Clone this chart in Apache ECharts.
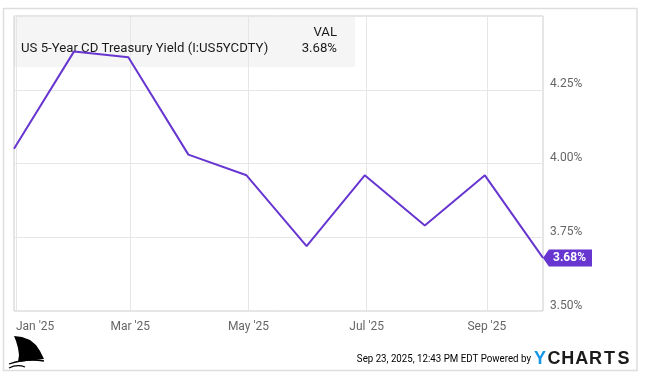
<!DOCTYPE html>
<html>
<head>
<meta charset="utf-8">
<script src="https://cdn.jsdelivr.net/npm/echarts@6/dist/echarts.min.js"></script>
<style>
html,body{margin:0;padding:0;background:#fff;}
#chart{width:645px;height:377px;}
</style>
</head>
<body>
<div id="chart"></div>
<script>
// ---- data ----
var dates = ['2024-12-31','2025-01-31','2025-02-28','2025-03-31','2025-04-30','2025-05-31','2025-06-30','2025-07-31','2025-08-31','2025-09-30'];
var yields = [4.05, 4.38, 4.36, 4.03, 3.96, 3.72, 3.96, 3.79, 3.96, 3.68];
var xTickDates = ['2025-01-01','2025-03-01','2025-05-01','2025-07-01','2025-09-01'];
var seriesName = 'US 5-Year CD Treasury Yield (I:US5YCDTY)';
var lastLabel = '3.68%';
var footerText = 'Sep 23, 2025, 12:43 PM EDT Powered by';

function ts(s){ var p = s.split('-'); return new Date(+p[0], +p[1]-1, +p[2]).getTime(); }
var months = ['Jan','Feb','Mar','Apr','May','Jun','Jul','Aug','Sep','Oct','Nov','Dec'];
var seriesData = dates.map(function(d,i){ return [ts(d), yields[i]]; });
var tickVals = xTickDates.map(ts);
var lastPoint = seriesData[seriesData.length-1];

var purple = '#6735d0';
var chart = echarts.init(document.getElementById('chart'));
var logoLetters = ['Y','C','H','A','R','T','S'];
var logoGraphics = logoLetters.map(function(ch, i){
  return {type:'text', x: 540 + i*13.9, y: 359, z: 10,
    style:{text: ch, font:'bold 18px "Liberation Sans", Arial, sans-serif', fill: i===0 ? '#1597e5' : '#1a1a1a', align:'center', verticalAlign:'middle'}};
});

chart.setOption({
  animation:false,
  textStyle:{fontFamily:'Roboto, sans-serif'},
  grid:{left:14, right:102, top:16, bottom:66, show:true, borderColor:'#cccccc', borderWidth:1, containLabel:false},
  xAxis:{
    type:'value', min:seriesData[0][0], max:lastPoint[0], scale:true,
    axisLine:{show:false}, axisTick:{show:false, customValues: tickVals},
    splitLine:{show:true, customValues: tickVals, lineStyle:{color:'#e6e6e6', width:1}},
    axisLabel:{customValues: tickVals, margin:10, color:'#666', fontSize:12, fontFamily:'Roboto',
      alignMinLabel:'left', hideOverlap:false,
      formatter:function(v){ var d=new Date(v); return months[d.getMonth()]+" '"+String(d.getFullYear()).slice(2); }}
  },
  yAxis:{
    type:'value', position:'right', min:3.5, max:4.5, interval:0.25,
    axisLine:{show:false}, axisTick:{show:false},
    splitLine:{show:true, lineStyle:{color:'#e6e6e6', width:1}},
    axisLabel:{margin:7, color:'#666', fontSize:12, fontFamily:'Roboto', verticalAlign:'middle', lineHeight:11, showMaxLabel:false,
      formatter:function(v){ return v.toFixed(2)+'%\n '; }}
  },
  series:[{
    type:'line', name:seriesName, data:seriesData, showSymbol:false, symbol:'none',
    lineStyle:{color:purple, width:2}, z:5,
    markPoint:{
      symbol:'path://M0,8 L6,0 L50,0 L50,16 L6,16 Z', symbolSize:[49,17], symbolOffset:[24.5,0], symbolKeepAspect:false,
      itemStyle:{color:purple},
      label:{show:true, position:'inside', offset:[2,0], color:'#fff', fontWeight:'bold', fontSize:12, fontFamily:'Roboto', formatter: lastLabel},
      data:[{coord: lastPoint, value: lastPoint[1]}]
    }
  }],
  graphic:[
    {type:'rect', z:-1, shape:{x:3.5, y:8.5, width:633.5, height:362}, style:{fill:'none', stroke:'#dddddd', lineWidth:1.5}},
    {type:'rect', z:-1, shape:{x:14, y:16, width:341, height:51}, style:{fill:'#f5f5f5'}},
    {type:'text', x:337, y:33, z:10, style:{text:'VAL', font:'13.2px Roboto', fill:'#1a1a1a', align:'right', verticalAlign:'middle'}},
    {type:'text', x:21, y:49, z:1, style:{text:seriesName, font:'13.2px Roboto', fill:'#1a1a1a', align:'left', verticalAlign:'middle'}},
    {type:'text', x:337, y:49, z:10, style:{text:lastLabel, font:'13.2px Roboto', fill:'#1a1a1a', align:'right', verticalAlign:'middle'}},
    {type:'text', x:531, y:359, z:10, scaleX:0.845, style:{text:footerText, font:'11.5px Roboto', fill:'#000', align:'right', verticalAlign:'middle'}},
    {type:'polygon', z:10, shape:{points:[[14,336],[22,337],[30,340],[36,345],[40,351],[44,359],[18,362],[19,355],[18,348],[16,341]]}, style:{fill:'#000'}},
    {type:'bezierCurve', z:10, shape:{x1:9,y1:364,cpx1:26,cpy1:358,x2:44,y2:361}, style:{fill:'none', stroke:'#000', lineWidth:1.3}},
    {type:'bezierCurve', z:10, shape:{x1:9,y1:368,cpx1:17,cpy1:364,x2:25,y2:367}, style:{fill:'none', stroke:'#000', lineWidth:1.3}}
  ].concat(logoGraphics)
});
</script>
</body>
</html>
